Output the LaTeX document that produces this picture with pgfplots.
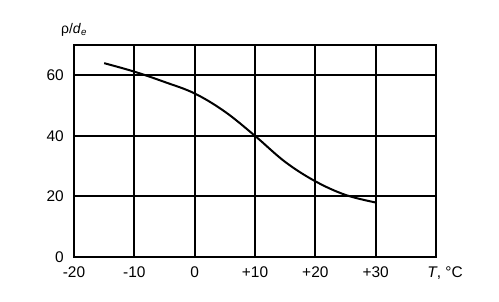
\documentclass[border=0pt]{standalone}
\usepackage{fontspec}
\setmainfont{Liberation Sans}
\usepackage{pgfplots}
\pgfplotsset{compat=1.18}
\begin{document}
\fontsize{15}{18}\selectfont
\begin{tikzpicture}
\begin{axis}[name=ax,
  scale only axis, width=362bp, height=212bp,
  xmin=-20, xmax=40, ymin=0, ymax=70,
  xtick={-20,-10,0,10,20,30,40},
  xticklabels={-20,-10,0,+10,+20,+30,{\hspace*{18bp}\textit{T}, °C}},
  ytick={0,20,40,60},
  yticklabels={0,20,40,60},
  tick style={draw=none},
  grid=major,
  grid style={black, line width=2bp},
  axis line style={black, line width=2bp},
  xticklabel style={font=\fontsize{15.5}{18}\selectfont, inner sep=0pt, yshift=-10bp},
  yticklabel style={font=\fontsize{15.5}{18}\selectfont, inner sep=0pt, xshift=-10bp},
  clip=false,
]
\addplot[black, line width=2bp, smooth, tension=0.6] coordinates {
  (-15,64) (-10,61.2) (-5,57.8) (0,54.0) (5,48.0) (10,40) (15,31.4) (20,25.0) (25,20.5) (30,18.0)
};
\node[anchor=base, font=\fontsize{14}{16}\selectfont] at (rel axis cs:0,1) [yshift=12bp] {ρ/\textit{d}\textsubscript{\textit{e}}};
\end{axis}
\path (ax.south west) ++(-74bp,-45bp) rectangle ++(499bp,302bp);
\end{tikzpicture}
\end{document}
